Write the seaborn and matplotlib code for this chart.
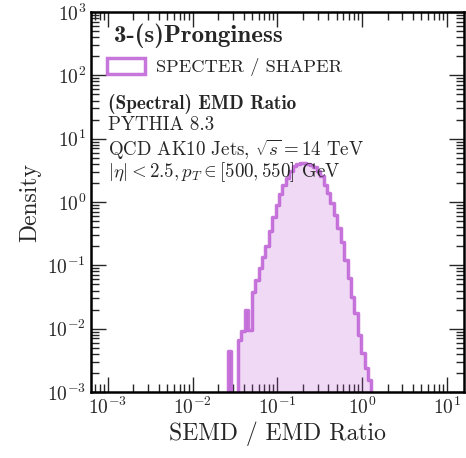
import numpy as np
import matplotlib
matplotlib.use("Agg")
import matplotlib.pyplot as plt
import seaborn as sns
from matplotlib.patches import Patch
from matplotlib.colors import to_rgba
from matplotlib.ticker import LogLocator, NullFormatter

sns.set_style("ticks")
plt.rcParams.update({
    "font.family": "serif",
    "font.serif": ["cmr10"],
    "mathtext.fontset": "cm",
    "axes.formatter.use_mathtext": True,
    "axes.unicode_minus": True,
})

# ---- data ----
bin_edges = np.logspace(-3, 1, 100)          # log-spaced histogram bins
filled_bins = [35, 38, 39, 40, 41, 42, 43, 44, 45, 46, 47, 48, 49, 50, 51,
               52, 53, 54, 55, 56, 57, 58, 59, 60, 61, 62, 63, 64, 65, 66,
               67, 68, 69, 70, 71, 72, 73, 74, 75, 76]
density = [0.00444, 0.00662, 0.00918, 0.0197, 0.00952, 0.0379, 0.0586,
           0.0907, 0.1355, 0.2018, 0.348, 0.580, 0.897, 1.337, 1.854, 2.39,
           3.09, 3.70, 4.05, 4.20, 4.20, 4.05, 3.84, 3.57, 3.09, 2.57, 1.854,
           1.388, 0.964, 0.623, 0.388, 0.234, 0.1214, 0.0631, 0.0316, 0.0177,
           0.00794, 0.00413, 0.00239, 0.00155]
series_label = "SPECTER / SHAPER"
title_text = "3-(s)Pronginess"
info_lines = ["PYTHIA 8.3",
              r"QCD AK10 Jets, $\sqrt{s} = 14$ TeV",
              r"$|\eta| < 2.5, p_T \in [500, 550]$ GeV"]
info_title = "(Spectral) EMD Ratio"

color = "mediumorchid"

x_vals = [float(np.sqrt(bin_edges[k] * bin_edges[k + 1])) for k in filled_bins]

fig = plt.figure(figsize=(4.66, 4.58), dpi=100)
ax = fig.add_axes([91 / 466, 1 - 392 / 458, 372.7 / 466, 380 / 458])

sns.histplot(x=x_vals, weights=density, bins=[float(v) for v in np.log10(bin_edges)],
             log_scale=True, stat="count", element="step", fill=True,
             facecolor=to_rgba(color, 0.22), edgecolor=to_rgba(color, 0.8),
             linewidth=2.5, ax=ax)
ax.set_yscale("log")
ax.set_xlim(10 ** -3.2, 10 ** 1.2)
ax.set_ylim(1e-3, 1e3)

ax.set_xlabel("SEMD / EMD Ratio", fontsize=17, labelpad=2)
ax.set_ylabel("Density", fontsize=17)

for axis in (ax.xaxis, ax.yaxis):
    axis.set_major_locator(LogLocator(base=10, numticks=20))
    axis.set_minor_locator(LogLocator(base=10, subs=np.arange(2, 10), numticks=20))
    axis.set_minor_formatter(NullFormatter())
ax.tick_params(which="both", direction="in", top=True, right=True,
               labelsize=14, width=1.0)
ax.tick_params(which="major", length=11)
ax.tick_params(which="minor", length=5.5)
for s in ax.spines.values():
    s.set_linewidth(1.8)
    s.set_color("black")

def axx(px):
    return (px - 91) / 372.7

def axy(py):
    return (392 - py) / 380

ax.text(axx(114), axy(36), title_text, transform=ax.transAxes,
        fontsize=18, family="cmb10", va="center", ha="left")
handle = Patch(facecolor="white", edgecolor=to_rgba(color, 0.8), linewidth=2.5)
ax.legend([handle], [series_label], loc="upper left",
          bbox_to_anchor=(axx(90), axy(41)), frameon=False, fontsize=13.3,
          handlelength=2.1, handleheight=1.0, handletextpad=0.6)
ax.text(axx(108), axy(104), info_title, transform=ax.transAxes,
        fontsize=13.8, family="cmb10", va="center", ha="left")
for line, py in zip(info_lines, [125, 150, 172]):
    ax.text(axx(108), axy(py), line, transform=ax.transAxes,
            fontsize=13.6, va="center", ha="left")

fig.savefig("out.png", dpi=100)
